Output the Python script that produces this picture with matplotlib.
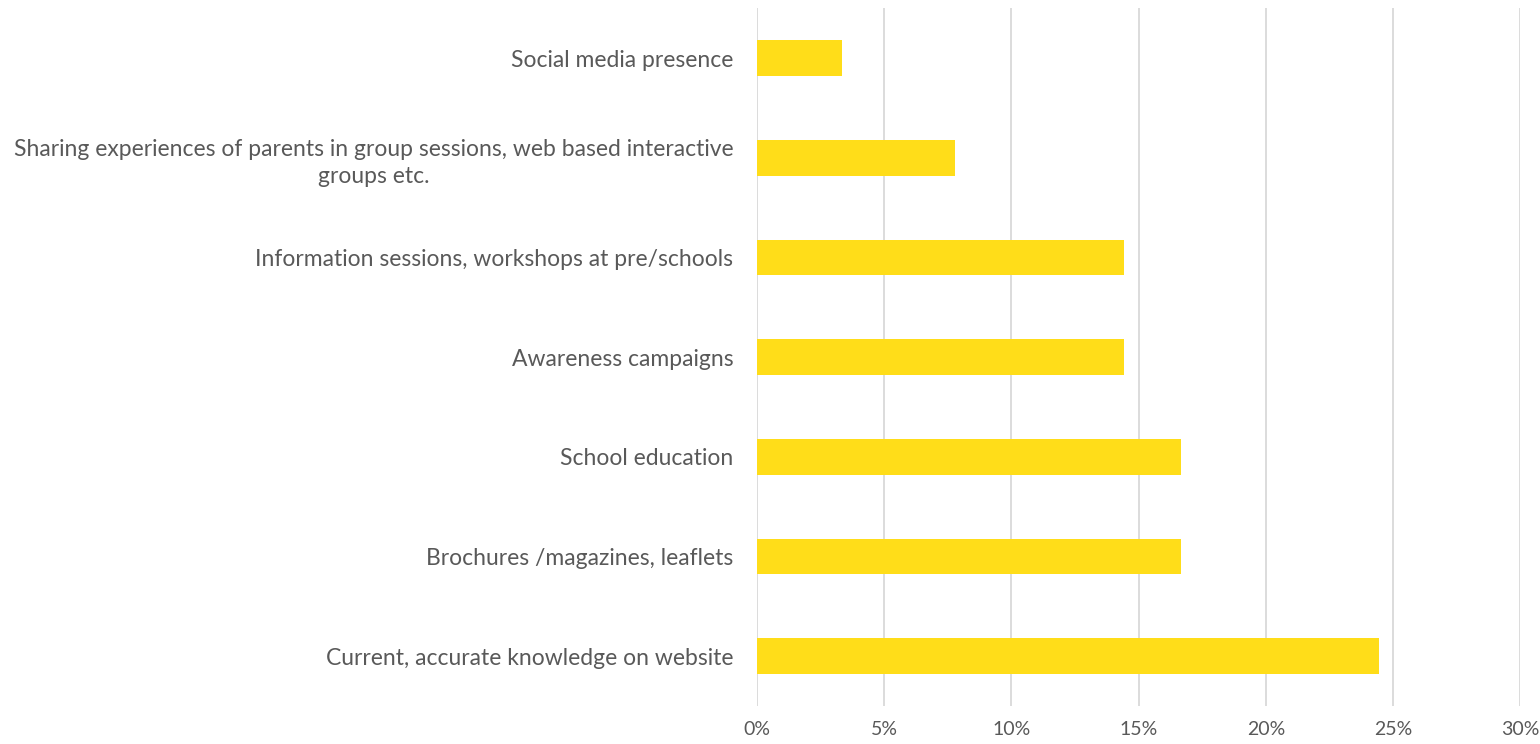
import matplotlib
matplotlib.use("Agg")
import matplotlib.pyplot as plt
from matplotlib.ticker import PercentFormatter, MultipleLocator

# Survey responses: preferred channels for information (share of respondents, %)
categories = [
    "Current, accurate knowledge on website",
    "Brochures /magazines, leaflets",
    "School education",
    "Awareness campaigns",
    "Information sessions, workshops at pre/schools",
    "Sharing experiences of parents in group sessions, web based interactive\ngroups etc.",
    "Social media presence",
]
shares = [24.44, 16.67, 16.67, 14.44, 14.44, 7.78, 3.33]

BAR_COLOR = "#FFDD19"
TEXT_COLOR = "#595959"
GRID_COLOR = "#D9D9D9"

plt.rcParams["font.family"] = ["Lato", "DejaVu Sans"]

fig = plt.figure(figsize=(15.4, 7.44), dpi=100)
ax = fig.add_axes([0.4916, 0.051, 0.4955, 0.938])

y = range(len(categories))
ax.barh(y, shares, height=0.357, color=BAR_COLOR, zorder=3)

ax.set_xlim(0, 30)
ax.set_ylim(-0.5, len(categories) - 0.5)
ax.xaxis.set_major_locator(MultipleLocator(5))
ax.xaxis.set_major_formatter(PercentFormatter(decimals=0))
ax.set_yticks(list(y))
ax.set_yticklabels(categories)
for lbl in ax.get_yticklabels():
    lbl.set_multialignment("center")
    lbl.set_linespacing(1.35)

ax.grid(axis="x", color=GRID_COLOR, linewidth=1.3, zorder=0)
ax.grid(axis="y", visible=False)
for side in ("top", "right", "bottom", "left"):
    ax.spines[side].set_visible(False)

ax.tick_params(axis="y", length=0, pad=17, labelsize=16.5, labelcolor=TEXT_COLOR)
ax.tick_params(axis="x", length=0, pad=11, labelsize=14, labelcolor=TEXT_COLOR)

fig.savefig("out.png", dpi=100, facecolor="white")
